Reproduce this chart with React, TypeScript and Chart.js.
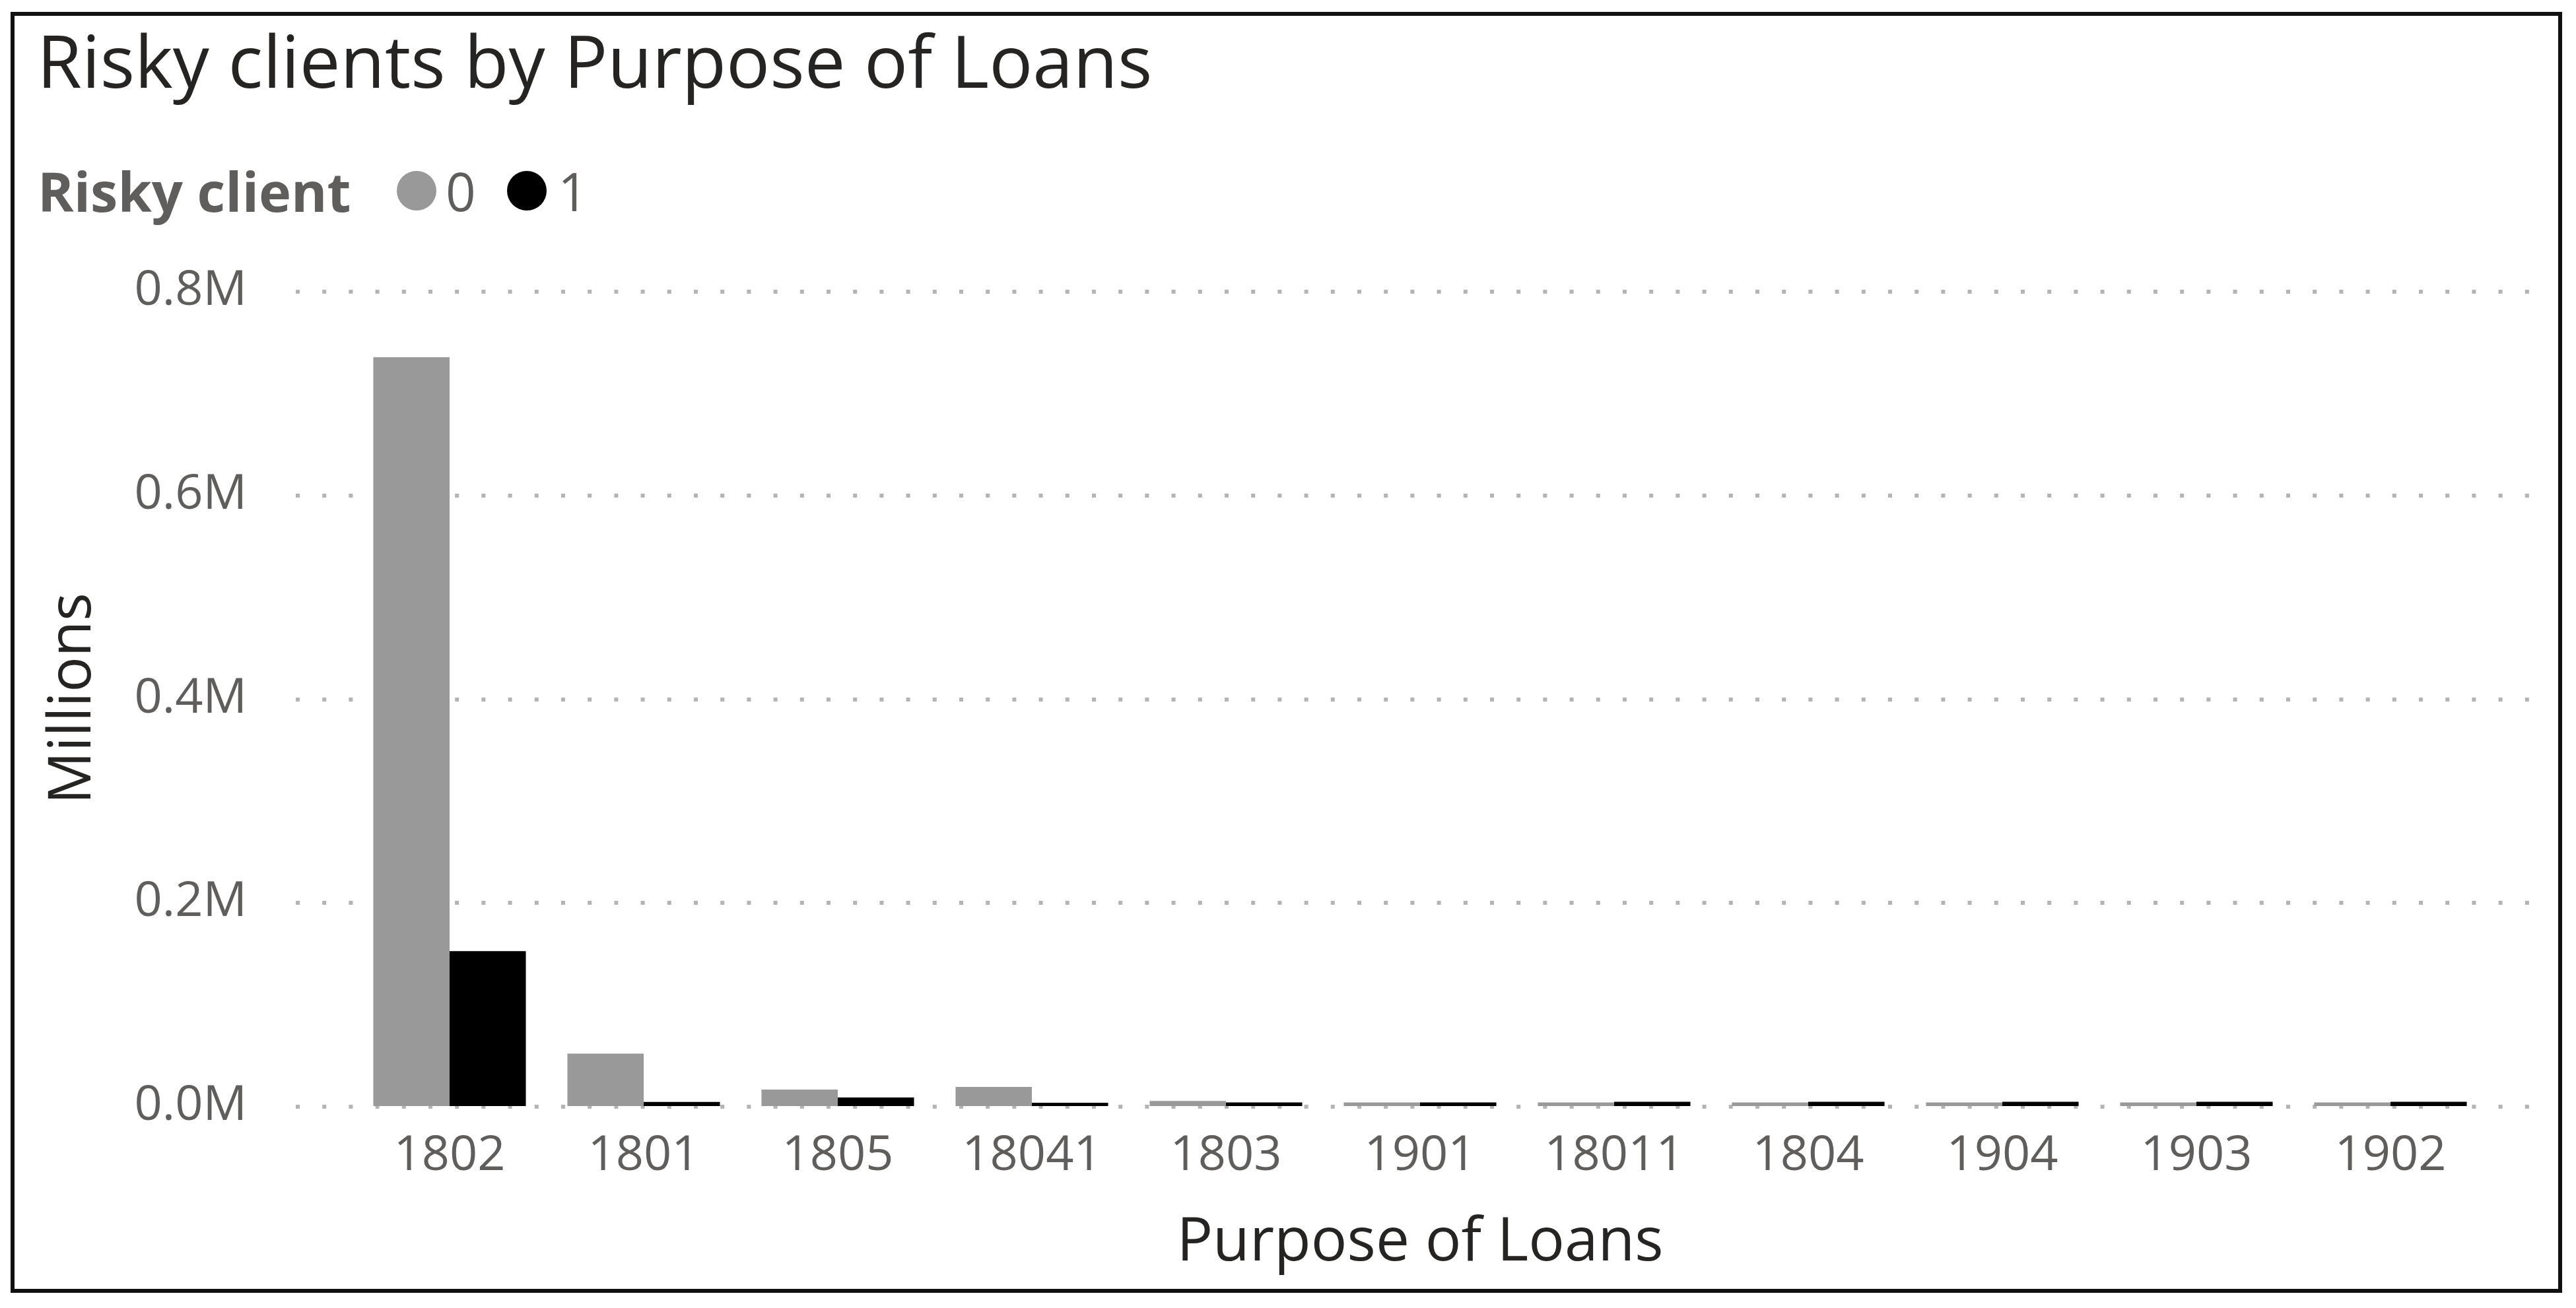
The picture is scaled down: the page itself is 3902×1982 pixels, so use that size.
import React, { useEffect, useRef } from 'react';
import { Chart, registerables } from 'chart.js';

Chart.register(...registerables);

const categories = ['1802', '1801', '1805', '18041', '1803', '1901', '18011', '1804', '1904', '1903', '1902'];
const riskyClient0 = [0.735, 0.0515, 0.0162, 0.0188, 0.005, 0.0035, 0.0035, 0.0035, 0.0035, 0.0035, 0.0035];
const riskyClient1 = [0.152, 0.004, 0.0084, 0.0032, 0.0035, 0.0035, 0.0042, 0.0042, 0.0042, 0.0042, 0.0042];
const seriesLabels = ['0', '1'];
const seriesColors = ['#999999', '#000000'];
const yMin = 0;
const yMax = 0.8;
const yStep = 0.2;

const FONT = "'Open Sans', 'Noto Sans', sans-serif";
const TEXT_GRAY = '#605E5C';
const TEXT_DARK = '#252423';

const dottedGrid = {
  id: 'dottedGrid',
  beforeDatasetsDraw(chart: any) {
    const { ctx, chartArea, scales } = chart;
    const y = scales.y;
    ctx.save();
    ctx.strokeStyle = '#b4b4b4';
    ctx.lineWidth = 6;
    ctx.setLineDash([6, 34.2]);
    const x0 = chartArea.left - 86;
    const x1 = chartArea.right + 74;
    y.ticks.forEach((t: any) => {
      const py = Math.round(y.getPixelForValue(t.value)) + 1;
      ctx.beginPath();
      ctx.moveTo(x0, py);
      ctx.lineTo(x1, py);
      ctx.stroke();
    });
    ctx.restore();
  },
};

export default function App() {
  const canvasRef = useRef<HTMLCanvasElement | null>(null);

  useEffect(() => {
    if (!canvasRef.current) return;
    const chart = new Chart(canvasRef.current, {
      type: 'bar',
      data: {
        labels: categories,
        datasets: [
          {
            label: seriesLabels[0],
            data: riskyClient0,
            backgroundColor: seriesColors[0],
            borderWidth: 0,
            categoryPercentage: 0.786,
            barPercentage: 1.0,
          },
          {
            label: seriesLabels[1],
            data: riskyClient1,
            backgroundColor: seriesColors[1],
            borderWidth: 0,
            categoryPercentage: 0.786,
            barPercentage: 1.0,
          },
        ],
      },
      plugins: [dottedGrid],
      options: {
        responsive: false,
        maintainAspectRatio: false,
        animation: false,
        devicePixelRatio: 1,
        layout: { padding: { left: 0, right: 134, top: 441, bottom: 0 } },
        plugins: {
          legend: { display: false },
          title: { display: false },
          tooltip: { enabled: false },
        },
        scales: {
          x: {
            grid: { display: false, drawTicks: false },
            border: { display: false },
            ticks: {
              color: TEXT_GRAY,
              font: { family: FONT, size: 74 },
              padding: 32,
              maxRotation: 0,
              autoSkip: false,
            },
            title: {
              display: true,
              text: 'Purpose of Loans',
              color: TEXT_DARK,
              font: { family: FONT, size: 91 },
              padding: { top: 0, bottom: 43 },
            },
            afterFit: (s: any) => {
              s.height = 306;
            },
          },
          y: {
            min: yMin,
            max: yMax,
            grid: { display: false, drawTicks: false },
            border: { display: false },
            ticks: {
              stepSize: yStep,
              color: TEXT_GRAY,
              font: { family: FONT, size: 74 },
              padding: 160,
              callback: (v: any) => Number(v).toFixed(1) + 'M',
            },
            title: {
              display: true,
              text: 'Millions',
              color: TEXT_DARK,
              font: { family: FONT, size: 89 },
              padding: { top: 58, bottom: 0 },
            },
            afterFit: (s: any) => {
              s.width = 534;
            },
          },
        },
      },
    } as any);
    return () => chart.destroy();
  }, []);

  const abs: React.CSSProperties = { position: 'absolute', whiteSpace: 'nowrap', lineHeight: 1, fontFamily: FONT };

  return (
    <div style={{ position: 'absolute', left: 0, top: 0, width: 3902, height: 1982, background: '#ffffff', overflow: 'hidden' }}>
      <div
        style={{
          position: 'absolute',
          left: 16,
          top: 18,
          width: 3865,
          height: 1941,
          border: '6px solid #111111',
          boxSizing: 'border-box',
        }}
      />
      <div style={{ ...abs, left: 56, top: 35, fontSize: 110, color: TEXT_DARK }}>Risky clients by Purpose of Loans</div>
      <div style={{ ...abs, left: 57, top: 247, fontSize: 83, fontWeight: 700, color: TEXT_GRAY }}>Risky client</div>
      <div style={{ position: 'absolute', left: 601, top: 259, width: 60, height: 60, borderRadius: '50%', background: seriesColors[0] }} />
      <div style={{ ...abs, left: 675, top: 249, fontSize: 80, color: TEXT_GRAY }}>{seriesLabels[0]}</div>
      <div style={{ position: 'absolute', left: 768, top: 259, width: 60, height: 60, borderRadius: '50%', background: seriesColors[1] }} />
      <div style={{ ...abs, left: 845, top: 249, fontSize: 80, color: TEXT_GRAY }}>{seriesLabels[1]}</div>
      <canvas
        ref={canvasRef}
        width={3902}
        height={1982}
        style={{ position: 'absolute', left: 0, top: 0, width: 3902, height: 1982 }}
      />
    </div>
  );
}
